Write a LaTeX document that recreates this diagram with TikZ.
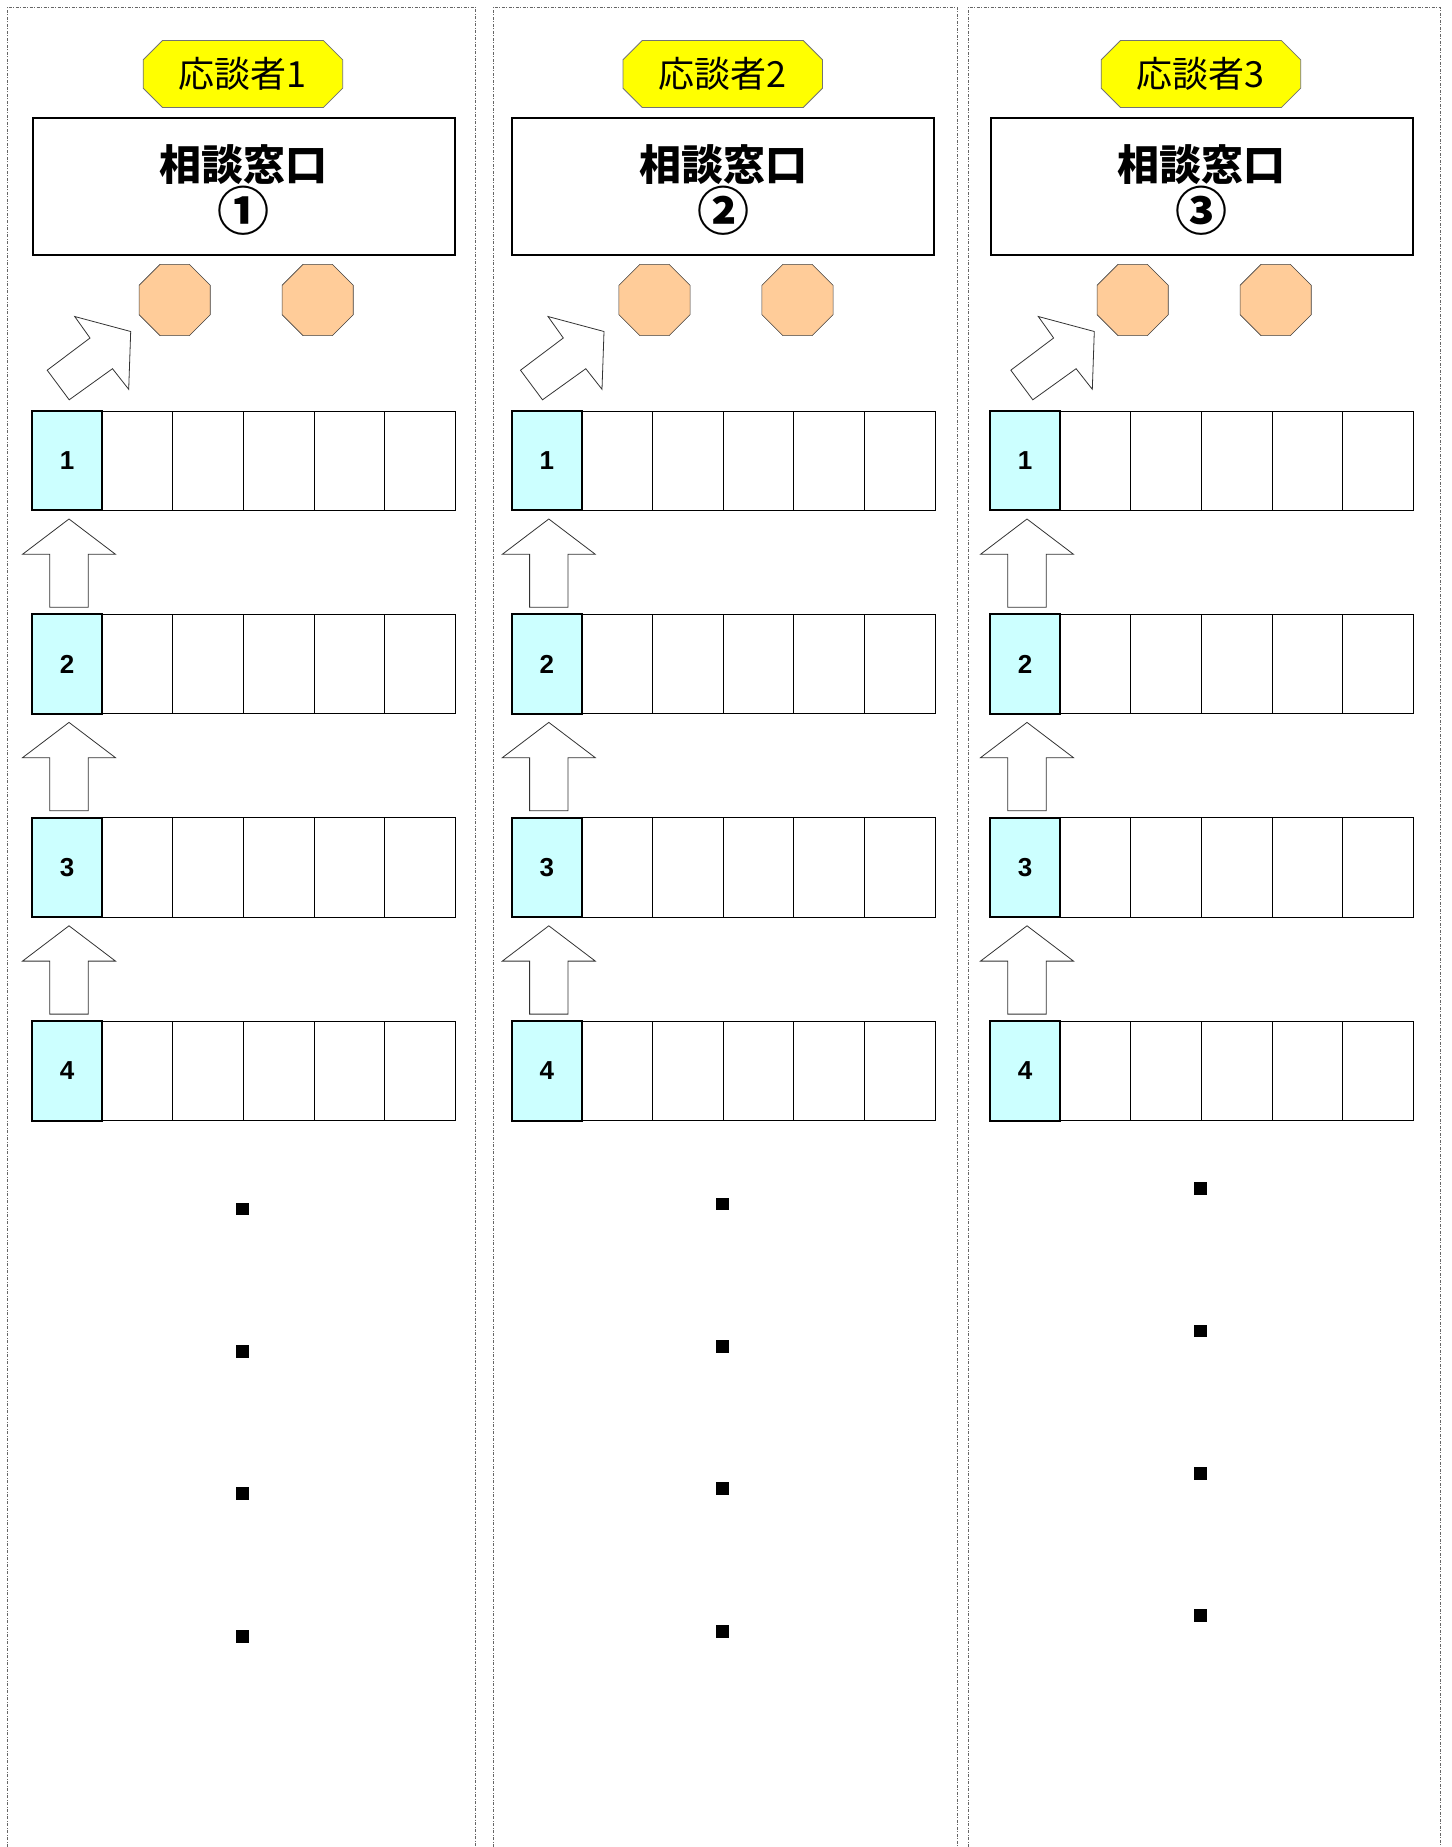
\documentclass[tikz,border=0pt]{standalone}
\usepackage{fontspec}
\setmainfont{Liberation Sans}
\newfontfamily\jpfont{Noto Sans CJK JP}
\usetikzlibrary{shapes.geometric}

\definecolor{tagyellow}{HTML}{FFFF00}
\definecolor{seatpeach}{HTML}{FFCC99}
\definecolor{numcyan}{HTML}{CCFFFF}

\newcommand\desknum[1]{{\fontsize{52}{45}\selectfont\ifcase#1\or ①\or ②\or ③\fi}}

\tikzset{
  panel/.style={black!60, line width=0.8pt, dash pattern=on 3pt off 1.5pt on 1pt off 1.5pt},
  tag/.style={draw=black!55, fill=tagyellow, line width=0.8pt},
  tagtext/.style={inner sep=0pt, font=\jpfont\fontsize{36}{36}\selectfont},
  desk/.style={draw, line width=2pt, minimum width=422pt, minimum height=137pt, inner sep=0pt,
    align=center, font=\jpfont\bfseries\fontsize{42}{45}\selectfont},
  seat/.style={regular polygon, regular polygon sides=8, draw=black!75, fill=seatpeach,
    minimum size=77pt, inner sep=0pt, line width=0.6pt},
  slot/.style={draw, line width=1pt, minimum width=70.6pt, minimum height=99.4pt,
    inner sep=0pt, outer sep=0pt},
  numcell/.style={slot, line width=2pt, fill=numcyan, font=\bfseries\fontsize{26}{26}\selectfont},
  blockarrow/.style={draw=black!80, fill=white, line width=0.8pt},
  waitdot/.style={fill=black, minimum size=12.7pt, inner sep=0pt},
}

\begin{document}
\begin{tikzpicture}[x=1pt,y=-1pt]
  \useasboundingbox (0,0) rectangle (1451,1847);

  \foreach \p/\xo/\pl/\pr/\tipx/\doty in {1/31.7/7.3/475.7/130.7/1209,
      2/511.5/493.3/957/604/1204, 3/989.7/968.3/1440/1094.3/1188.5} {
    % panel frame
    \draw[panel] (\pl,1847) -- (\pl,7.3) -- (\pr,7.3) -- (\pr,1847);

    % staff tag
    \draw[tag] (\xo+211-99.5,74) ++(0,-14.2) -- ++(19.3,-19.3) -- ++(160.9,0) -- ++(19.3,19.3)
      -- ++(0,28.4) -- ++(-19.3,19.3) -- ++(-160.9,0) -- ++(-19.3,-19.3) -- cycle;
    \node[tagtext] (tag\p) at (\xo+211,74) {応談者\p};

    % desk and seats
    \node[desk] (desk\p) at (\xo+211.8,186.3) {\rule{0pt}{43pt}相談窓口\\\desknum{\p}};
    \node[seat] (seatA\p) at (\xo+143,300) {};
    \node[seat] (seatB\p) at (\xo+286,300) {};

    % arrow to the seat
    \draw[blockarrow, shift={(\tipx,331.5)}] (0,0) -- (-56,-15) -- (-40.7,6.5) -- (-83.5,38.7)
      -- (-61.5,68.3) -- (-18.2,37.2) -- (-2,57.8) -- cycle;

    % queue rows
    \foreach \r in {1,...,4} {
      \pgfmathsetmacro\ytop{411+203.4*(\r-1)}
      \foreach \c in {1,...,5}
        \node[slot] (n\p-\r-\c) at (\xo+35.3+70.6*\c,\ytop+49.7) {};
      \node[numcell] (n\p-\r-0) at (\xo+35.3,\ytop+49.7) {\r};
    }

    % arrows between rows
    \foreach \r in {1,2,3} {
      \pgfmathsetmacro\ytip{411+203.4*(\r-1)+99.4+8.6}
      \draw[blockarrow, shift={(\xo+37.3,\ytip)}] (0,0) -- (46.5,35.3) -- (19.2,35.3) -- (19.2,88.3)
        -- (-19.2,88.3) -- (-19.2,35.3) -- (-46.5,35.3) -- cycle;
    }

    % waiting dots
    \foreach \d in {0,...,3}
      \node[waitdot] (w\p-\d) at (\xo+211,\doty+142.4*\d) {};
  }
\end{tikzpicture}
\end{document}
